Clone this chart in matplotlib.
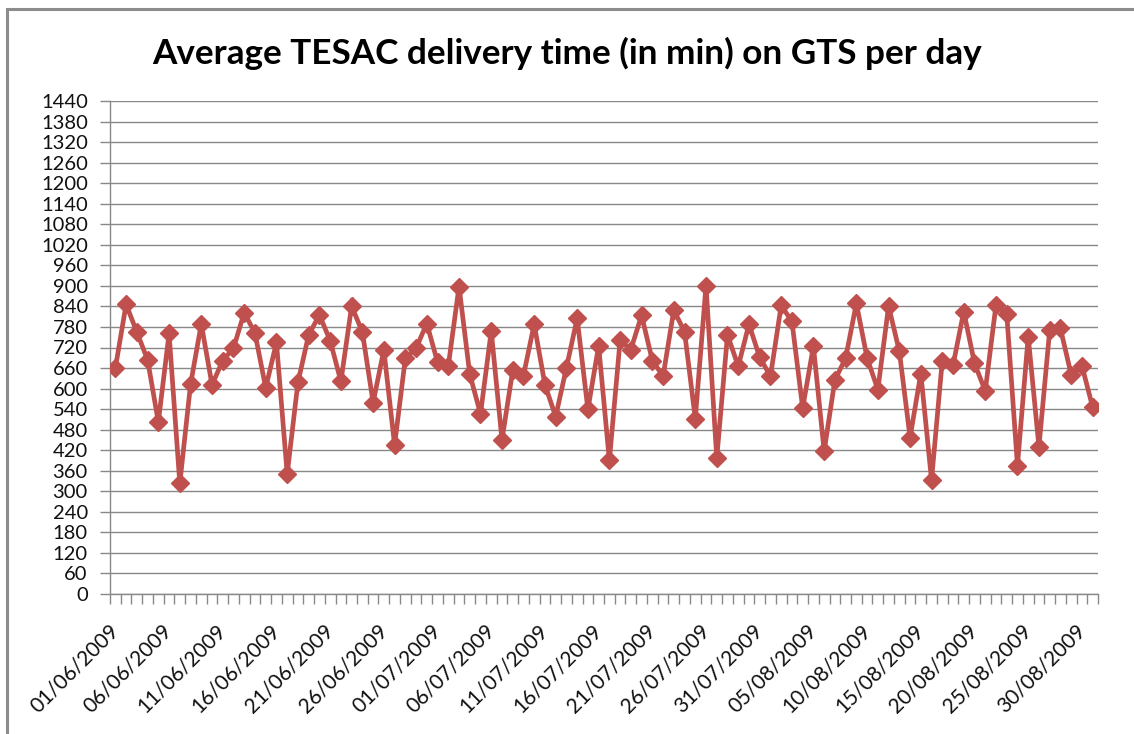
import matplotlib
matplotlib.use("Agg")
import matplotlib.pyplot as plt
from matplotlib.patches import Rectangle
from matplotlib.ticker import MultipleLocator, FixedLocator, NullFormatter
import pandas as pd

# Daily average delivery time (minutes), 1 June - 31 August 2009
days = pd.date_range("2009-06-01", "2009-08-31", freq="D")
day_labels = [d.strftime("%d/%m/%Y") for d in days]
delivery_min = [
    660, 846, 765, 684, 502, 761, 323, 612, 789, 611,
    682, 718, 822, 762, 602, 735, 350, 618, 757, 815,
    740, 621, 841, 765, 559, 713, 435, 688, 718, 790,
    677, 666, 898, 642, 526, 768, 450, 653, 638, 788,
    611, 518, 661, 805, 539, 725, 390, 741, 714, 814,
    682, 636, 829, 766, 512, 901, 397, 757, 665, 788,
    691, 636, 843, 796, 543, 724, 417, 625, 689, 849,
    689, 597, 841, 709, 457, 644, 333, 682, 668, 825,
    674, 593, 844, 819, 375, 752, 430, 770, 776, 641,
    667, 546,
]
label_step = 5
y_max = 1440
y_step = 60

title = "Average TESAC delivery time (in min) on GTS per day"

W, H = 1134, 734
fig = plt.figure(figsize=(W / 100, H / 100), dpi=100)
fig.patch.set_facecolor("white")
plt.rcParams["font.family"] = ["Lato", "DejaVu Sans"]

grid_col = "#888888"
line_col = "#C0504D"
text_col = "#111111"

# chart frame
fig.add_artist(Rectangle((7 / W, -0.05), 1.2, 1 - 9 / H + 0.05,
                         transform=fig.transFigure, fill=False,
                         edgecolor="#8c8c8c", linewidth=2.2))

ax = fig.add_axes([110 / W, (H - 594) / H, (1098 - 110) / W, (594 - 101) / H])
x = list(range(len(delivery_min)))
ax.plot(x, delivery_min, color=line_col, linewidth=3.4, marker="D",
        markersize=9.5, markerfacecolor=line_col, markeredgecolor=line_col,
        solid_joinstyle="miter", zorder=3)

ax.set_xlim(-0.5, len(delivery_min) - 0.5)
ax.set_ylim(0, y_max)

ax.yaxis.set_major_locator(MultipleLocator(y_step))
ax.grid(axis="y", color=grid_col, linewidth=1.0)
ax.set_axisbelow(True)
ax.tick_params(axis="y", direction="out", length=7, width=1, color=grid_col,
               labelsize=14.5, pad=9, labelcolor=text_col)

label_pos = list(range(0, len(delivery_min), label_step))
ax.xaxis.set_major_locator(FixedLocator(label_pos))
ax.set_xticklabels([day_labels[i] for i in label_pos])
ax.xaxis.set_minor_locator(FixedLocator([i - 0.5 for i in range(len(delivery_min) + 1)]))
ax.xaxis.set_minor_formatter(NullFormatter())
ax.tick_params(axis="x", which="major", length=0, labelsize=15, pad=24,
               labelcolor=text_col)
ax.tick_params(axis="x", which="minor", direction="out", length=7, width=1,
               color=grid_col)
for lbl in ax.get_xticklabels():
    lbl.set_rotation(45)
    lbl.set_rotation_mode("anchor")
    lbl.set_ha("right")
    lbl.set_va("center")

for side in ("top", "right"):
    ax.spines[side].set_visible(False)
for side in ("left", "bottom"):
    ax.spines[side].set_color(grid_col)
    ax.spines[side].set_linewidth(1.0)

fig.text(0.5, 1 - 53 / H, title, ha="center", va="center",
         fontsize=25.3, fontweight="bold", color="#000000")

fig.savefig("out.png", dpi=100, facecolor="white")
